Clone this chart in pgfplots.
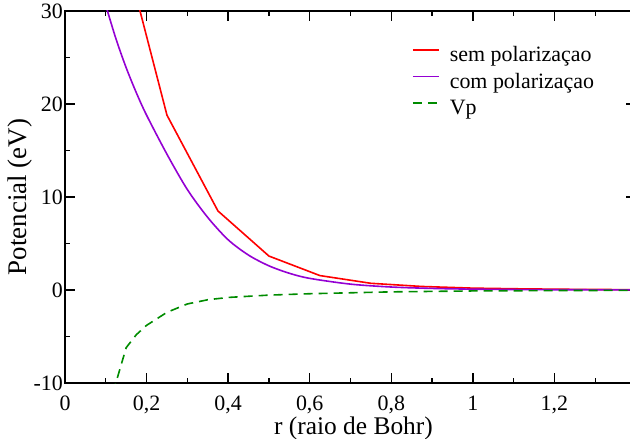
\documentclass[border=0pt]{standalone}
\usepackage{pgfplots}
\pgfplotsset{compat=1.18}
\usepackage{fontspec}
\setmainfont{Liberation Serif}
\usetikzlibrary{calc}

\definecolor{semcol}{RGB}{255,0,0}
\definecolor{comcol}{RGB}{148,0,211}
\definecolor{vpcol}{RGB}{0,140,0}

\begin{document}
\begin{tikzpicture}
\begin{axis}[
  scale only axis,
  width=571bp, height=372bp,
  xmin=0, xmax=1.4,
  ymin=-10, ymax=30,
  axis line style={line width=1.4bp},
  tick align=inside,
  major tick length=10bp,
  minor tick length=5bp,
  every tick/.style={black, line width=1.4bp},
  xtick={0,0.2,0.4,0.6,0.8,1.0,1.2},
  xticklabels={0,{0,2},{0,4},{0,6},{0,8},1,{1,2}},
  minor xtick={0.1,0.3,0.5,0.7,0.9,1.1,1.3},
  ytick={-10,0,10,20,30},
  yticklabels={-10,0,10,20,30},
  minor ytick={-5,5,15,25},
  tick label style={font=\fontsize{22}{24}\selectfont},
  xticklabel style={anchor=base, yshift=-27.5bp},
  yticklabel style={anchor=east, inner sep=0pt, xshift=-2bp},
  xlabel={r (raio de Bohr)},
  ylabel={Potencial (eV)},
  xlabel style={font=\fontsize{25.5}{28}\selectfont,
    at={(rel axis cs:0.5,0)}, anchor=base, yshift=-51bp, xshift=3bp},
  ylabel style={font=\fontsize{27}{30}\selectfont,
    at={(rel axis cs:-0.0666,0.5)}, anchor=base},
  legend style={
    at={(rel axis cs:0.6077,0.9075)}, anchor=north west,
    draw=none, fill=none, inner sep=0pt,
    font=\fontsize{22}{24}\selectfont,
    nodes={inner sep=0pt, text height=16bp, text depth=5bp},
    row sep=5.5bp, column sep=10bp,
  },
  legend cell align=left,
  legend image code/.code={\draw[#1] (0bp,6bp) -- (26bp,6bp);},
]
% potential without polarization
\addplot[color=semcol, line width=1.6bp] coordinates {
  (0.125,40.0) (0.25,18.8) (0.375,8.5) (0.5,3.65) (0.625,1.55)
  (0.75,0.72) (0.875,0.38) (1.0,0.2) (1.125,0.12) (1.25,0.07)
  (1.375,0.04) (1.5,0.02)
};
\addlegendentry{sem polarizaçao}

% potential with polarization
\addplot[color=comcol, line width=1.6bp, smooth, tension=0.5] coordinates {
  (0.1,30.6) (0.125,27.0) (0.15,23.9) (0.175,21.2) (0.2,18.8)
  (0.25,14.6) (0.3,10.8) (0.35,7.8) (0.4,5.4) (0.45,3.75)
  (0.5,2.6) (0.55,1.8) (0.6,1.25) (0.7,0.63) (0.8,0.32)
  (0.9,0.17) (1.0,0.09) (1.1,0.05) (1.2,0.03) (1.4,0.01)
};
\addlegendentry{com polarizaçao}

% polarization potential
\addplot[color=vpcol, line width=1.6bp, dash pattern=on 9bp off 6bp] coordinates {
  (0.118,-11.0) (0.15,-6.2) (0.175,-4.8) (0.2,-3.8) (0.25,-2.4)
  (0.3,-1.5) (0.35,-1.05) (0.4,-0.8) (0.5,-0.55) (0.6,-0.4)
  (0.7,-0.3) (0.8,-0.2) (0.9,-0.15) (1.0,-0.1) (1.2,-0.06)
  (1.4,-0.04)
};
\addlegendentry{Vp}

\coordinate (sw) at (rel axis cs:0,0);
\coordinate (ne) at (rel axis cs:1,1);
\end{axis}
\pgfresetboundingbox
\path ($(sw)+(-65bp,-56bp)$) rectangle ($(ne)+(-6bp,11bp)$);
\end{tikzpicture}
\end{document}
